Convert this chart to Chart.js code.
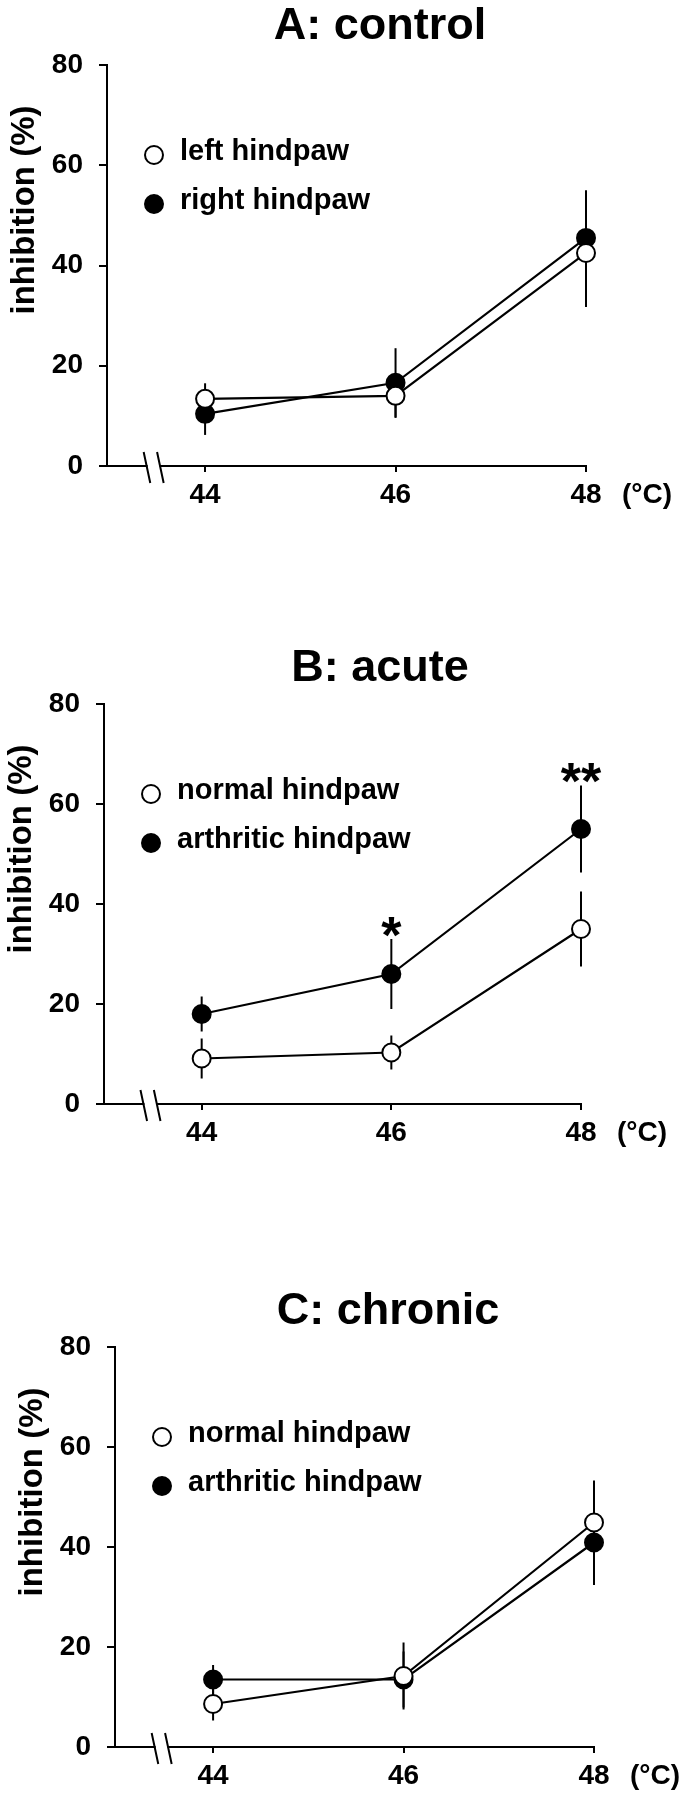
<!DOCTYPE html>
<html>
<head>
<meta charset="utf-8">
<script src="https://cdn.jsdelivr.net/npm/chart.js@4/dist/chart.umd.min.js"></script>
<style>
  body { margin: 0; background: #fff; }
  canvas { position: absolute; left: 0; }
</style>
</head>
<body>
<canvas id="chartA" width="690" height="600" style="top:0px"></canvas>
<canvas id="chartB" width="690" height="600" style="top:600px"></canvas>
<canvas id="chartC" width="690" height="600" style="top:1200px"></canvas>
<script>
const temps = [44, 46, 48]
const yTicks = [0, 20, 40, 60, 80]

// A: control
const controlLeft = [13.4, 14.0, 42.5]
const controlLeftSem = [3.1, 4.4, 10.8]
const controlRight = [10.4, 16.6, 45.5]
const controlRightSem = [4.2, 6.9, 9.5]

// B: acute
const acuteNormal = [9.1, 10.3, 35.0]
const acuteNormalSem = [4.0, 3.4, 7.5]
const acuteArthritic = [18.0, 26.0, 55.0]
const acuteArthriticSem = [3.5, 7.0, 8.7]
const acuteSig = ['', '*', '**']

// C: chronic
const chronicNormal = [8.6, 14.2, 44.9]
const chronicNormalSem = [3.3, 6.7, 8.4]
const chronicArthritic = [13.5, 13.5, 40.9]
const chronicArthriticSem = [2.9, 5.6, 8.5]

const FONT = "'Liberation Sans', Arial, Helvetica, sans-serif"
const xMin = 42.97
const axisBreak = 43.46

function series(label, values, sem, filled) {
    return {
        label: label,
        data: temps.map((t, i) => ({ x: t, y: values[i] })),
        sem: sem,
        clip: false,
        borderColor: '#000',
        borderWidth: 2.2,
        pointRadius: 9,
        pointHoverRadius: 9,
        pointBorderWidth: 2,
        pointBorderColor: '#000',
        pointBackgroundColor: filled ? '#000' : '#fff',
        tension: 0
    }
}

const panelExtras = {
    id: 'panelExtras',
    beforeDatasetsDraw(chart) {
        const { ctx, scales: { x, y } } = chart
        ctx.save()
        ctx.strokeStyle = '#000'
        ctx.lineWidth = 2
        chart.data.datasets.forEach(ds => {
            ds.data.forEach((p, i) => {
                const px = x.getPixelForValue(p.x)
                ctx.beginPath()
                ctx.moveTo(px, y.getPixelForValue(p.y + ds.sem[i]))
                ctx.lineTo(px, y.getPixelForValue(p.y - ds.sem[i]))
                ctx.stroke()
            })
        })
        ctx.restore()
    },
    afterDraw(chart) {
        const { ctx, chartArea, scales: { x, y } } = chart
        const o = chart.options.plugins.panelExtras
        ctx.save()
        ctx.fillStyle = '#000'
        ctx.strokeStyle = '#000'

        // panel title
        ctx.font = `bold 45px ${FONT}`
        ctx.textAlign = 'center'
        ctx.textBaseline = 'middle'
        ctx.fillText(o.title, o.titleX, o.titleY)

        // y axis title
        ctx.save()
        ctx.translate(chartArea.left - 82, chartArea.top + 145)
        ctx.rotate(-Math.PI / 2)
        ctx.font = `bold 33px ${FONT}`
        ctx.fillText('inhibition (%)', 0, 0)
        ctx.restore()

        // legend
        chart.data.datasets.forEach((ds, i) => {
            const cx = chartArea.left + 47
            const cy = chartArea.top + 90 + i * 49
            ctx.beginPath()
            ctx.arc(cx, cy, 9, 0, Math.PI * 2)
            ctx.fillStyle = ds.pointBackgroundColor
            ctx.fill()
            ctx.lineWidth = 2
            ctx.stroke()
            ctx.fillStyle = '#000'
            ctx.font = `bold 29px ${FONT}`
            ctx.textAlign = 'left'
            ctx.textBaseline = 'alphabetic'
            ctx.fillText(ds.label, cx + 26, cy + 5)
        })

        // unit after the last tick
        ctx.font = `bold 28px ${FONT}`
        ctx.textAlign = 'left'
        ctx.textBaseline = 'middle'
        ctx.fillText('(°C)', x.getPixelForValue(temps[temps.length - 1]) + 36, x.top + 6 + 6 + 16.8)

        // significance marks
        if (o.sig) {
            ctx.font = `bold 52px ${FONT}`
            ctx.textAlign = 'center'
            ctx.textBaseline = 'alphabetic'
            o.sig.forEach((s, i) => {
                if (!s) return
                const top = Math.max(...chart.data.datasets.map(ds => ds.data[i].y + ds.sem[i]))
                ctx.fillText(s, x.getPixelForValue(temps[i]), y.getPixelForValue(top + 3.3) + 30)
            })
        }

        // axis break
        const bx = x.getPixelForValue(axisBreak)
        const by = chartArea.bottom
        ctx.fillStyle = '#fff'
        ctx.fillRect(bx - 6, by - 3, 12, 6)
        ctx.lineWidth = 2
        ctx.beginPath()
        ctx.moveTo(bx - 10, by - 14)
        ctx.lineTo(bx - 3.4, by + 17)
        ctx.moveTo(bx + 3.4, by - 14)
        ctx.lineTo(bx + 10, by + 17)
        ctx.stroke()
        ctx.restore()
    }
}

function makePanel(id, cfg) {
    const tickFont = { family: FONT, size: 28, weight: 'bold' }
    new Chart(document.getElementById(id), {
        type: 'line',
        data: { datasets: cfg.datasets },
        plugins: [panelExtras],
        options: {
            responsive: false,
            animation: false,
            layout: { padding: { top: cfg.top, bottom: cfg.bottom, left: 0, right: cfg.right } },
            plugins: {
                legend: { display: false },
                tooltip: { enabled: false },
                panelExtras: { title: cfg.title, titleX: cfg.titleX, titleY: cfg.titleY, sig: cfg.sig }
            },
            scales: {
                x: {
                    type: 'linear',
                    min: xMin,
                    max: 48,
                    afterBuildTicks: s => { s.ticks = temps.map(v => ({ value: v })) },
                    afterFit: s => { s.height = 50 },
                    ticks: { font: tickFont, color: '#000', padding: 6, maxRotation: 0 },
                    grid: { drawOnChartArea: false, tickLength: 6, color: '#000', lineWidth: 2 },
                    border: { color: '#000', width: 2 }
                },
                y: {
                    min: 0,
                    max: 80,
                    afterBuildTicks: s => { s.ticks = yTicks.map(v => ({ value: v })) },
                    afterFit: s => { s.width = cfg.yWidth },
                    ticks: { font: tickFont, color: '#000', padding: 16 },
                    grid: { drawOnChartArea: false, tickLength: 8, color: '#000', lineWidth: 2 },
                    border: { color: '#000', width: 2 }
                }
            }
        }
    })
}

makePanel('chartA', {
    title: 'A: control', titleX: 380, titleY: 27,
    top: 65, bottom: 84, right: 104, yWidth: 107,
    datasets: [
        series('left hindpaw', controlLeft, controlLeftSem, false),
        series('right hindpaw', controlRight, controlRightSem, true)
    ]
})

makePanel('chartB', {
    title: 'B: acute', titleX: 380, titleY: 69,
    top: 104, bottom: 46, right: 109, yWidth: 104,
    sig: acuteSig,
    datasets: [
        series('normal hindpaw', acuteNormal, acuteNormalSem, false),
        series('arthritic hindpaw', acuteArthritic, acuteArthriticSem, true)
    ]
})

makePanel('chartC', {
    title: 'C: chronic', titleX: 388, titleY: 112,
    top: 147, bottom: 3, right: 96, yWidth: 115,
    datasets: [
        series('normal hindpaw', chronicNormal, chronicNormalSem, false),
        series('arthritic hindpaw', chronicArthritic, chronicArthriticSem, true)
    ]
})
</script>
</body>
</html>
